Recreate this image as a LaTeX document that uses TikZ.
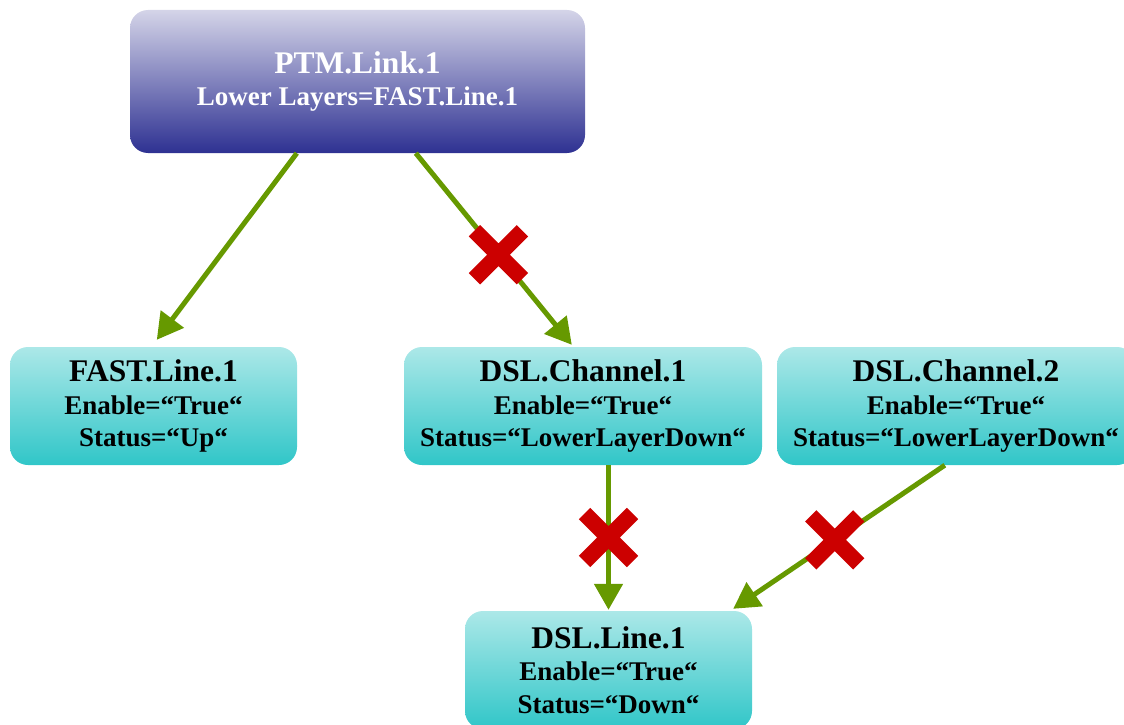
\documentclass[tikz,border=0pt]{standalone}
\usepackage{fontspec}
\setmainfont{Liberation Serif}
\usetikzlibrary{positioning, arrows.meta, shapes.misc}
\definecolor{ptmtop}{RGB}{212, 212, 232}
\definecolor{ptmbot}{RGB}{46, 49, 146}
\definecolor{boxtop}{RGB}{172, 232, 232}
\definecolor{boxbot}{RGB}{48, 198, 200}
\definecolor{link}{RGB}{102, 153, 0}
\definecolor{fail}{RGB}{204, 0, 0}

\begin{document}
\begin{tikzpicture}[
    x=1pt, y=-1pt,
    box_style/.style={
        rounded corners=18pt,
        align=center,
        inner sep=4pt,
        minimum height=118pt,
        font=\bfseries\fontsize{27}{32.5}\selectfont
    },
    ptm_style/.style={box_style, minimum width=455pt, minimum height=143pt,
        top color=ptmtop, bottom color=ptmbot, text=white},
    obj_style/.style={box_style, top color=boxtop, bottom color=boxbot, text=black},
    link_style/.style={draw=link, line width=5pt,
        -{Triangle[length=26pt, width=28pt]}},
    xmark_style/.style={
        cross out,
        draw=fail,
        line width=16pt,
        minimum size=32pt,
        inner sep=0pt
    }
]
\useasboundingbox (0,0) rectangle (1124,725);

\newcommand{\ttl}[1]{{\fontsize{31.5}{36}\selectfont #1}}

\node[ptm_style] (ptm) at (357.5,81.5) {\ttl{PTM.Link.1}\\Lower Layers=FAST.Line.1};

\node[obj_style, minimum width=287pt] (fast) at (153.5,406)
    {\ttl{FAST.Line.1}\\Enable=“True“\\Status=“Up“};
\node[obj_style, minimum width=358pt] (ch1) at (583,406)
    {\ttl{DSL.Channel.1}\\Enable=“True“\\Status=“LowerLayerDown“};
\node[obj_style, minimum width=358pt] (ch2) at (956,406)
    {\ttl{DSL.Channel.2}\\Enable=“True“\\Status=“LowerLayerDown“};
\node[obj_style, minimum width=287pt] (line1) at (608.5,670)
    {\ttl{DSL.Line.1}\\Enable=“True“\\Status=“Down“};

% links
\draw[link_style] ([xshift=167pt]ptm.south west) -- ([xshift=147pt, yshift=7pt]fast.north west);
\draw[link_style] ([xshift=286pt]ptm.south west) -- ([xshift=168pt, yshift=2pt]ch1.north west)
    node[xmark_style, pos=0.53] (x1) {};
\draw[link_style] (ch1.south -| line1.north) -- ([yshift=1pt]line1.north)
    node[xmark_style, pos=0.5] (x2) {};
\draw[link_style] ([xshift=168pt]ch2.south west) -- ([xshift=-19pt, yshift=2pt]line1.north east)
    node[xmark_style, pos=0.52] (x3) {};

\end{tikzpicture}
\end{document}
